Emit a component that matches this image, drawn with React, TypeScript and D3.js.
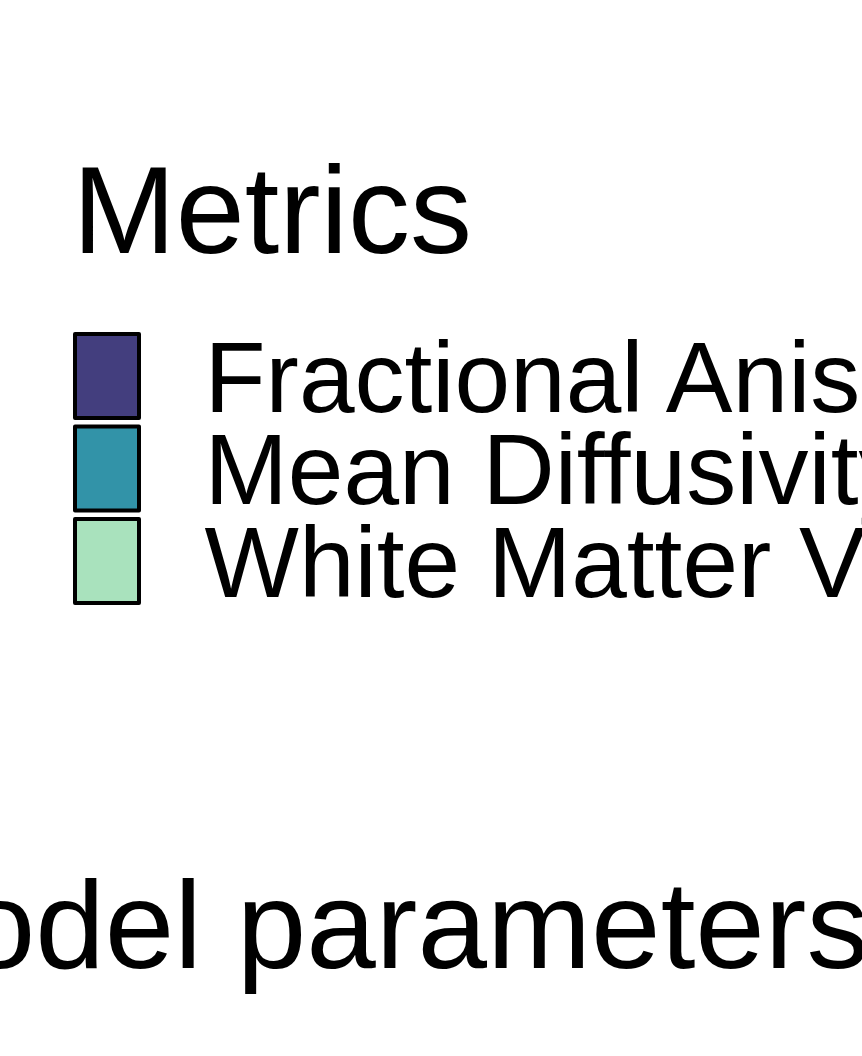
import React from "react";
import * as d3 from "d3";

// legend content (the visible part of the chart)
const legendTitle = "Metrics";
const metrics = ["Fractional Anisotropy", "Mean Diffusivity", "White Matter Volume"];
const metricColors = ["#433e7e", "#3293a8", "#a9e2bd"];
const xTitle = "Number of model parameters";

const width = 862;
const height = 1056;

export default function App() {
  // legend keys stacked with a band scale
  const keyScale = d3
    .scaleBand<string>()
    .domain(metrics)
    .range([330, 607.5])
    .padding(0);

  const color = d3.scaleOrdinal<string, string>().domain(metrics).range(metricColors);

  const step = keyScale.step();

  return (
    <div style={{ position: "absolute", left: 0, top: 0 }}>
      <svg
        width={width}
        height={height}
        style={{ display: "block", background: "#fff" }}
        fontFamily="'Liberation Sans', Arial, sans-serif"
      >
        <text x={72.5} y={253} fontSize={124} fill="#000">
          {legendTitle}
        </text>

        {metrics.map((m) => {
          const y = keyScale(m) as number;
          return (
            <g key={m}>
              <rect
                x={75}
                y={y + 4}
                width={64}
                height={step - 8.5}
                fill={color(m)}
                stroke="#000"
                strokeWidth={4}
                strokeLinejoin="round"
              />
              <text x={204.5} y={y + step / 2 + 35.5} fontSize={100} fill="#000">
                {m}
              </text>
            </g>
          );
        })}

        <text x={869} y={968} fontSize={125} textAnchor="end" fill="#000">
          {xTitle}
        </text>
      </svg>
    </div>
  );
}
